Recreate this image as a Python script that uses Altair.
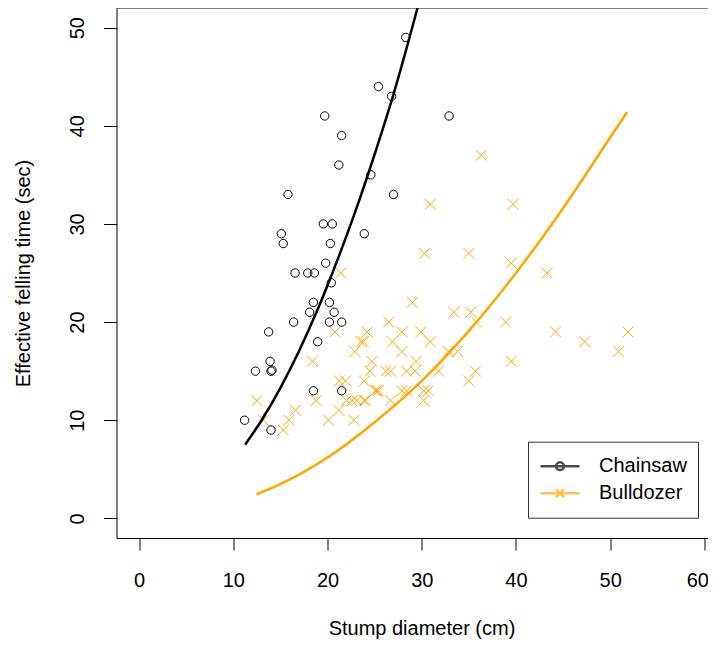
import altair as alt
import pandas as pd

# ---- data ----
chainsaw_x = [11.2, 12.35, 13.75, 13.9, 14.0, 14.1, 14.0, 15.1, 15.3, 15.8, 16.4, 16.55,
              17.9, 18.6, 18.1, 18.5, 18.5, 18.95, 19.7, 19.55, 20.5, 19.8, 20.3, 20.4,
              20.2, 20.2, 20.7, 21.2, 21.5, 21.5, 21.5, 23.9, 24.6, 25.4, 26.8, 27.0,
              28.3, 32.9]
chainsaw_y = [10, 15, 19, 16, 15, 15.1, 9, 29, 28, 33, 20, 25,
              25, 25, 21, 22, 13, 18, 41, 30, 30, 26, 28, 24,
              22, 20, 21, 36, 39, 20, 13, 29, 35, 44, 43, 33,
              49, 41]

bulldozer_x = [12.5, 13.2, 15.3, 15.9, 16.6, 18.4, 18.8, 20.1, 20.8, 21.2, 21.25, 21.4,
               21.9, 22.0, 22.6, 22.8, 22.9, 23.1, 23.55, 23.8, 23.9, 23.9, 24.0, 24.2,
               24.5, 24.7, 25.1, 25.2, 25.4, 26.2, 26.5, 26.7, 26.7, 26.9, 27.9, 27.9,
               27.9, 28.4, 28.4, 29.0, 29.3, 29.4, 29.9, 30.2, 30.2, 30.3, 30.7, 30.9,
               30.9, 31.8, 32.8, 33.4, 33.8, 35.0, 35.0, 35.2, 35.7, 35.8, 36.3, 38.9,
               39.5, 39.5, 39.7, 43.3, 44.2, 47.3, 50.9, 51.9]
bulldozer_y = [12, 10, 9, 10, 11, 16, 12, 10, 19, 11, 14, 25,
               14, 12, 12, 10, 17, 12, 18, 18, 14, 12, 12, 19,
               15, 16, 13, 13, 13, 15, 20, 15, 12, 18, 19, 17,
               13, 13, 15, 22, 15, 16, 19, 13, 12, 27, 13, 32,
               18, 15, 17, 21, 17, 14, 27, 21, 15, 20, 37, 20,
               16, 26, 32, 25, 19, 18, 17, 19]

# fitted curves, points
chainsaw_fit_x = [11.25, 13, 15, 17, 19, 21, 23, 25, 27, 29.55]
chainsaw_fit_y = [7.5, 10.0, 13.3, 17.1, 21.4, 26.2, 31.4, 37.1, 43.2, 52.0]
bulldozer_fit_x = [12.45, 15, 20, 25, 30, 35, 40, 45, 50, 51.8]
bulldozer_fit_y = [2.45, 3.5, 6.2, 9.8, 14.0, 19.1, 25.0, 31.6, 38.8, 41.4]

series = ["Chainsaw", "Bulldozer"]
colors = ["black", "#FFA500"]
x_ticks = [0, 10, 20, 30, 40, 50, 60]
y_ticks = [0, 10, 20, 30, 40, 50]

FONT = "Liberation Sans"
PAD_L = 108.5
W, H = 700 - PAD_L, 530
XMAX = -2.4 + W * 64.8 / 610.5

chain_df = pd.DataFrame({"x": chainsaw_x, "y": chainsaw_y})
bull_df = pd.DataFrame({"x": bulldozer_x, "y": bulldozer_y})
chain_fit = pd.DataFrame({"x": chainsaw_fit_x, "y": chainsaw_fit_y})
bull_fit = pd.DataFrame({"x": bulldozer_fit_x, "y": bulldozer_fit_y})
legend_df = pd.DataFrame({"x": [-100, -100], "y": [-100, -100], "series": series})

xscale = alt.Scale(domain=[-2.4, XMAX], nice=False, zero=False)
yscale = alt.Scale(domain=[-2, 52], nice=False, zero=False)

xaxis = alt.Axis(values=x_ticks, grid=False, tickSize=12, tickColor="black",
                 domainColor="black", labelFont=FONT, labelFontSize=20,
                 labelColor="black", labelPadding=20, labelFlush=5,
                 labelFlushOffset=4, labelOverlap=False,
                 title="Stump diameter (cm)", titleFont=FONT, titleFontSize=20,
                 titleFontWeight="normal", titleColor="black", titleX=305,
                 titleY=96, titleBaseline="alphabetic", titleAlign="center")
yaxis = alt.Axis(values=y_ticks, grid=False, tickSize=13, tickColor="black",
                 domainColor="black", labelFont=FONT, labelFontSize=20,
                 labelColor="black", labelAngle=270, labelAlign="center",
                 labelBaseline="alphabetic", labelPadding=20, labelFlush=False,
                 labelOverlap=False,
                 title="Effective felling time (sec)", titleFont=FONT,
                 titleFontSize=20, titleFontWeight="normal", titleColor="black",
                 titleAngle=270, titleX=-87, titleY=H / 2,
                 titleBaseline="alphabetic", titleAlign="center")

X = alt.X("x:Q", scale=xscale, axis=xaxis)
Y = alt.Y("y:Q", scale=yscale, axis=yaxis)

top_border = alt.Chart(pd.DataFrame({"a": [0]})).mark_rule(
    color="black", strokeWidth=1).encode(
    x=alt.value(0), x2=alt.value(W), y=alt.value(0))

chain_pts = alt.Chart(chain_df).mark_point(
    shape="circle", filled=False, color="black", size=70, strokeWidth=1,
    opacity=1).encode(x=X, y=Y)
bull_pts = alt.Chart(bull_df).mark_point(
    shape="M-1,-1L1,1M-1,1L1,-1", filled=False, color="#FFA500", size=121,
    strokeWidth=1, opacity=1).encode(x=X, y=Y)
chain_line = alt.Chart(chain_fit).mark_line(
    color="black", strokeWidth=2.5, interpolate="monotone", clip=True).encode(x=X, y=Y)
bull_line = alt.Chart(bull_fit).mark_line(
    color="#FFA500", strokeWidth=2.5, interpolate="monotone", clip=True).encode(x=X, y=Y)

leg = alt.Legend(title=None, orient="none", legendX=411.5, legendY=433.7,
                 fillColor="white", strokeColor="#333333", padding=11,
                 labelFont=FONT, labelFontSize=20, labelColor="black",
                 symbolSize=1521, symbolStrokeWidth=2.5, symbolOffset=0,
                 labelOffset=18, rowPadding=0, clipHeight=27,
                 symbolFillColor="transparent")
shape_paths = ["M-1,0L1,0M0.2,0A0.2,0.2,0,1,1,-0.2,0A0.2,0.2,0,1,1,0.2,0",
               "M-1,0L1,0M-0.2,-0.2L0.2,0.2M-0.2,0.2L0.2,-0.2"]
legend_layer = alt.Chart(legend_df).mark_point(filled=False, clip=True).encode(
    x=X, y=Y,
    color=alt.Color("series:N", scale=alt.Scale(domain=series, range=colors),
                    sort=series, legend=leg),
    shape=alt.Shape("series:N", scale=alt.Scale(domain=series, range=shape_paths),
                    sort=series, legend=leg),
)

chart = alt.layer(top_border, bull_pts, chain_pts, chain_line, bull_line,
                  legend_layer).properties(
    width=W, height=H,
    autosize=alt.AutoSizeParams(type="none"),
    padding={"left": PAD_L, "top": 0, "right": 0, "bottom": 102},
    background="white",
).configure_view(stroke="transparent")

chart.save("out.html", embed_options={"renderer": "svg", "actions": False})
